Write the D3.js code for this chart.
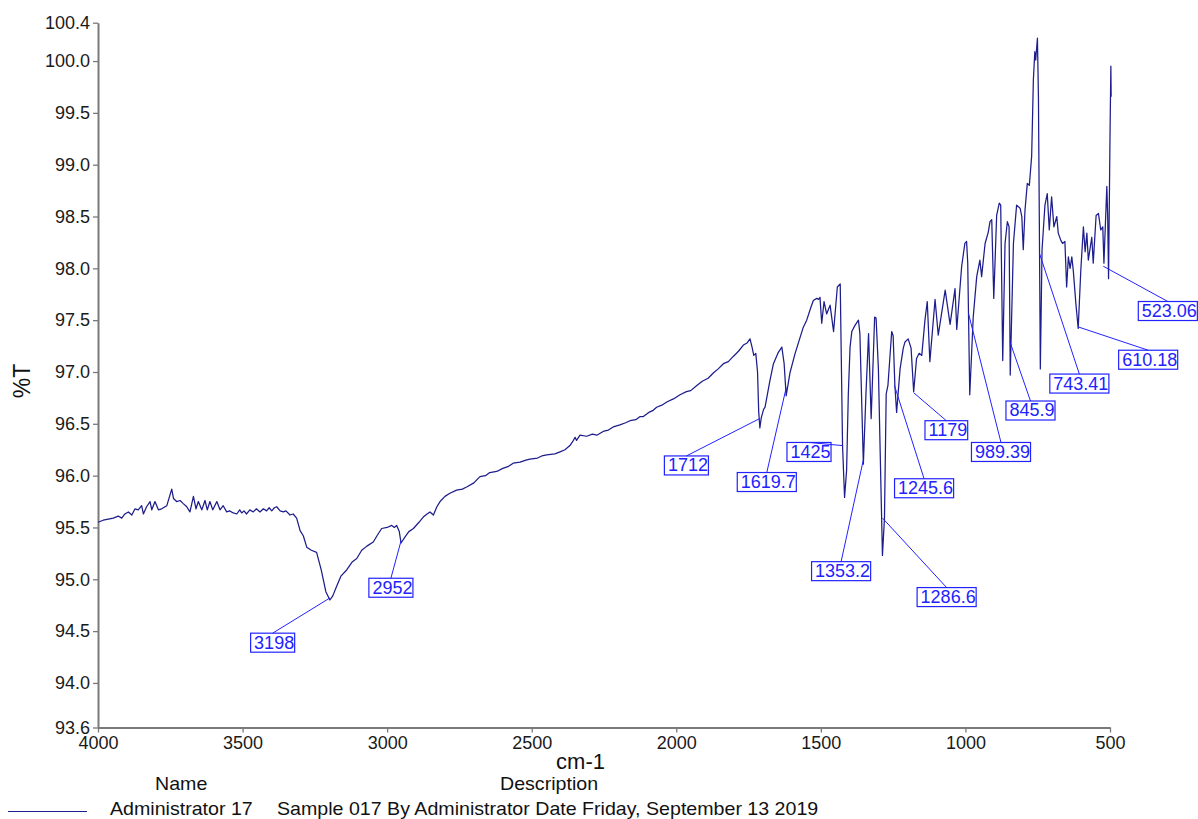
<!DOCTYPE html>
<html>
<head>
<meta charset="utf-8">
<script src="https://cdn.jsdelivr.net/npm/d3@7"></script>
<style>
  html, body { margin: 0; padding: 0; background: #ffffff; }
  svg { display: block; font-family: "Liberation Sans", Arial, sans-serif; }
</style>
</head>
<body>
<svg id="chart" width="1198" height="819"></svg>
<script>
// FTIR spectrum, sample 017: wavenumber (cm-1) and transmittance (%T)
const wavenumber = [
  4000, 3982, 3964, 3947, 3930, 3918, 3907, 3895, 3883, 3872, 3861, 3849, 3843, 3832, 3820, 3814,
  3803, 3791, 3780, 3762, 3745, 3739, 3728, 3716, 3705, 3693, 3682, 3670, 3661, 3653, 3641, 3630,
  3622, 3613, 3603, 3589, 3578, 3567, 3555, 3545, 3532, 3520, 3510, 3503, 3495, 3486, 3475, 3463,
  3452, 3440, 3428, 3417, 3408, 3399, 3390, 3382, 3370, 3359, 3350, 3336, 3325, 3313, 3301, 3290,
  3278, 3262, 3244, 3228, 3212, 3198, 3188, 3175, 3160, 3140, 3120, 3105, 3088, 3070, 3048, 3035,
  3019, 3000, 2984, 2975, 2967, 2958, 2952, 2938, 2925, 2909, 2890, 2875, 2862, 2852, 2840, 2828,
  2817, 2800, 2783, 2760, 2740, 2725, 2700, 2679, 2660, 2645, 2621, 2600, 2580, 2564, 2540, 2520,
  2506, 2480, 2465, 2448, 2420, 2402, 2385, 2368, 2358, 2350, 2345, 2333, 2310, 2290, 2275, 2250,
  2235, 2218, 2195, 2175, 2160, 2140, 2125, 2114, 2095, 2080, 2068, 2050, 2033, 2010, 1987, 1965,
  1950, 1929, 1910, 1890, 1872, 1855, 1837, 1820, 1803, 1785, 1768, 1755, 1745, 1738, 1732, 1725,
  1719, 1715, 1711, 1706, 1698, 1693, 1676, 1664, 1647, 1635, 1627, 1620, 1607, 1589, 1561, 1549,
  1535, 1526, 1514, 1508, 1503, 1497, 1489, 1480, 1468, 1456, 1443, 1433, 1425, 1418, 1411, 1405,
  1399, 1393, 1382, 1370, 1365, 1353, 1344, 1335, 1326, 1314, 1309, 1301, 1295, 1287, 1280, 1274,
  1268, 1255, 1250, 1244, 1238, 1226, 1215, 1209, 1198, 1188, 1179, 1169, 1160, 1151, 1140, 1132,
  1123, 1105, 1094, 1070, 1053, 1036, 1030, 1013, 1002, 996, 992, 989.4, 985, 973, 961, 950,
  944, 932, 921, 915, 909, 902, 892, 883, 878, 871, 863, 855, 849, 845, 834, 823,
  811, 805, 800, 794, 786, 779, 771, 765, 760, 757, 751, 747.5, 744.5, 741, 735, 725,
  717, 710, 702, 694, 684, 679, 670, 664, 656, 650, 644, 638, 632, 627, 618, 610,
  601, 592, 586, 580, 575, 563, 558, 548, 540, 532, 525, 521, 511, 508, 505, 500,
  497, 496
];
const transmittance = [
  95.55, 95.57, 95.58, 95.59, 95.61, 95.59, 95.63, 95.65, 95.62, 95.68, 95.67, 95.71, 95.63, 95.70, 95.75, 95.67,
  95.75, 95.67, 95.68, 95.71, 95.87, 95.78, 95.75, 95.76, 95.73, 95.70, 95.65, 95.80, 95.68, 95.75, 95.67, 95.76,
  95.67, 95.75, 95.67, 95.75, 95.67, 95.71, 95.65, 95.66, 95.64, 95.63, 95.67, 95.64, 95.66, 95.63, 95.67, 95.65,
  95.68, 95.65, 95.68, 95.66, 95.69, 95.66, 95.69, 95.70, 95.66, 95.65, 95.66, 95.62, 95.63, 95.59, 95.47, 95.42,
  95.31, 95.28, 95.26, 95.09, 94.88, 94.80, 94.84, 94.93, 95.03, 95.09, 95.17, 95.20, 95.28, 95.32, 95.36, 95.42,
  95.49, 95.50, 95.52, 95.50, 95.52, 95.46, 95.35, 95.41, 95.46, 95.49, 95.55, 95.60, 95.63, 95.65, 95.62, 95.70,
  95.75, 95.80, 95.83, 95.86, 95.87, 95.89, 95.93, 95.99, 96.00, 96.03, 96.04, 96.07, 96.09, 96.12, 96.13, 96.15,
  96.16, 96.17, 96.19, 96.20, 96.21, 96.23, 96.25, 96.29, 96.33, 96.37, 96.34, 96.39, 96.38, 96.40, 96.39, 96.43,
  96.44, 96.47, 96.49, 96.51, 96.53, 96.54, 96.57, 96.57, 96.61, 96.63, 96.66, 96.68, 96.71, 96.74, 96.78, 96.81,
  96.82, 96.87, 96.91, 96.94, 96.99, 97.03, 97.08, 97.10, 97.15, 97.20, 97.26, 97.28, 97.32, 97.24, 97.16, 97.18,
  97.00, 96.62, 96.46, 96.56, 96.64, 96.66, 96.92, 97.08, 97.19, 97.24, 97.08, 96.77, 96.99, 97.18, 97.43, 97.50,
  97.62, 97.69, 97.71, 97.70, 97.72, 97.47, 97.68, 97.56, 97.645, 97.39, 97.82, 97.85, 96.29, 95.79, 96.05, 96.79,
  97.24, 97.39, 97.45, 97.50, 97.37, 96.11, 96.79, 97.37, 96.55, 97.53, 97.52, 97.03, 96.25, 95.23, 95.59, 96.79,
  96.87, 97.39, 97.35, 96.87, 96.61, 97.03, 97.23, 97.29, 97.32, 97.23, 96.81, 97.13, 97.18, 97.16, 97.50, 97.68,
  97.10, 97.70, 97.355, 97.79, 97.46, 97.805, 97.41, 98.02, 98.24, 98.26, 98.05, 97.565, 96.78, 97.53, 97.92, 98.08,
  97.92, 98.24, 98.35, 98.45, 98.47, 97.71, 98.51, 98.63, 98.61, 97.11, 98.24, 98.45, 98.40, 96.97, 98.24, 98.61,
  98.58, 98.50, 98.18, 98.56, 98.82, 98.80, 99.08, 99.82, 100.09, 100.01, 100.22, 99.655, 98.50, 97.03, 98.18, 98.61,
  98.72, 98.37, 98.69, 98.40, 98.50, 98.34, 98.27, 98.24, 98.26, 97.82, 98.11, 98.00, 98.11, 97.98, 97.66, 97.42,
  97.98, 98.40, 98.16, 98.34, 98.08, 98.30, 98.05, 98.51, 98.53, 98.37, 98.40, 98.05, 98.79, 98.50, 97.90, 99.27,
  99.95, 99.655
];

// Picked peaks: label text, wavenumber and %T at the picked point
const peakLabels = ["3198", "2952", "1712", "1619.7", "1425", "1353.2", "1286.6", "1245.6", "1179", "989.39", "845.9", "743.41", "610.18", "523.06"];
const peakWavenumber = [3198, 2952, 1712, 1619.7, 1425, 1353.2, 1286.6, 1245.6, 1179, 989.39, 845.9, 743.41, 610.18, 523.06];
const peakTransmittance = [94.82, 95.37, 96.55, 96.85, 96.29, 96.15, 95.59, 96.87, 96.80, 97.565, 97.29, 98.14, 97.435, 98.02];
// Where each peak tag sits (top-centre of its box), in cm-1 and %T
const tagWavenumber = [3396, 2987, 1965, 1687, 1541, 1430, 1065, 1143, 1066, 877, 775, 606, 368, 300];
const tagTransmittance = [94.48, 95.01, 96.19, 96.03, 96.32, 95.17, 94.92, 95.97, 96.53, 96.32, 96.72, 96.98, 97.21, 97.68];

// Axis ranges and ticks
const xDomain = [4000, 500];
const yDomain = [93.57, 100.37];
const xTicks = [4000, 3500, 3000, 2500, 2000, 1500, 1000, 500];
const yTicks = [93.57, 94.0, 94.5, 95.0, 95.5, 96.0, 96.5, 97.0, 97.5, 98.0, 98.5, 99.0, 99.5, 100.0, 100.37];

const legendName = "Administrator 17";
const legendDescription = "Sample 017 By Administrator Date Friday, September 13 2019";

const margin = { top: 22.7, right: 88, bottom: 91.5, left: 98 };
const W = 1198, H = 819;
const innerW = W - margin.left - margin.right;
const innerH = H - margin.top - margin.bottom;

const svg = d3.select("#chart");
const g = svg.append("g").attr("transform", `translate(${margin.left},${margin.top})`);

const x = d3.scaleLinear().domain(xDomain).range([0, innerW]);
const y = d3.scaleLinear().domain(yDomain).range([innerH, 0]);

const axisColor = "#7a7a7a";
const tickTextColor = "#1a1a1a";

// Y axis
const yAxis = g.append("g")
  .call(d3.axisLeft(y).tickValues(yTicks).tickFormat(d3.format(".1f")).tickSize(5).tickSizeOuter(0).tickPadding(3));
// X axis
const xAxis = g.append("g")
  .attr("transform", `translate(0,${innerH})`)
  .call(d3.axisBottom(x).tickValues(xTicks).tickFormat(d3.format("d")).tickSize(5).tickSizeOuter(0).tickPadding(3.5));

[yAxis, xAxis].forEach(a => {
  a.select(".domain").attr("stroke", axisColor).attr("stroke-width", 2);
  a.selectAll(".tick line").attr("stroke", axisColor).attr("stroke-width", 1.3);
  a.selectAll(".tick text")
    .attr("fill", tickTextColor)
    .style("font-size", "18px")
    .style("font-family", "'Liberation Sans', Arial, sans-serif");
});

// Spectrum trace
const pts = wavenumber.map((w, i) => [w, transmittance[i]]);
const line = d3.line().x(d => x(d[0])).y(d => y(d[1]));
g.append("path")
  .datum(pts)
  .attr("fill", "none")
  .attr("stroke", "#1d1d8c")
  .attr("stroke-width", 1.25)
  .attr("stroke-linejoin", "round")
  .attr("d", line);

// Peak tags: leader from box top-centre to the picked point, then boxed value
const tagColor = "#2222ff";
const tags = g.append("g");
peakLabels.forEach((lab, i) => {
  const cx = x(tagWavenumber[i]);
  const top = y(tagTransmittance[i]);
  tags.append("line")
    .attr("x1", cx).attr("y1", top)
    .attr("x2", x(peakWavenumber[i])).attr("y2", y(peakTransmittance[i]))
    .attr("stroke", tagColor).attr("stroke-width", 1);
  const t = tags.append("text")
    .attr("fill", tagColor)
    .style("font-size", "18px")
    .text(lab);
  const tw = t.node().getComputedTextLength();
  const bw = tw + 4, bh = 19;
  const left = cx - bw / 2;
  t.attr("x", left + 3.5).attr("y", top + 15.5);
  tags.insert("rect", "text")
    .attr("x", left).attr("y", top)
    .attr("width", bw).attr("height", bh)
    .attr("fill", "none")
    .attr("stroke", tagColor).attr("stroke-width", 1.2);
});

// Text drawn with a horizontal stretch, as in the instrument printout
const wideText = (parent, px, py, str, size, sx, anchor) =>
  parent.append("text")
    .attr("transform", `translate(${px},${py}) scale(${sx},1)`)
    .attr("text-anchor", anchor || "start")
    .style("font-size", size + "px")
    .text(str);

// Axis titles
svg.append("text")
  .attr("transform", `translate(30,381) rotate(-90)`)
  .attr("text-anchor", "middle")
  .attr("fill", "#111")
  .style("font-size", "23px")
  .text("%T");
wideText(svg, 580.5, 768.5, "cm-1", 22, 1.0, "middle").attr("fill", "#111");

// Legend
const legend = svg.append("g").attr("fill", "#111");
wideText(legend, 155, 790, "Name", 18, 1.09);
wideText(legend, 500, 790, "Description", 18, 1.09);
legend.append("line")
  .attr("x1", 8).attr("x2", 87).attr("y1", 811.5).attr("y2", 811.5)
  .attr("stroke", "#1d1d8c").attr("stroke-width", 1.2);
wideText(legend, 110, 815, legendName, 18, 1.09);
wideText(legend, 277, 815, legendDescription, 18, 1.09);
</script>
</body>
</html>
